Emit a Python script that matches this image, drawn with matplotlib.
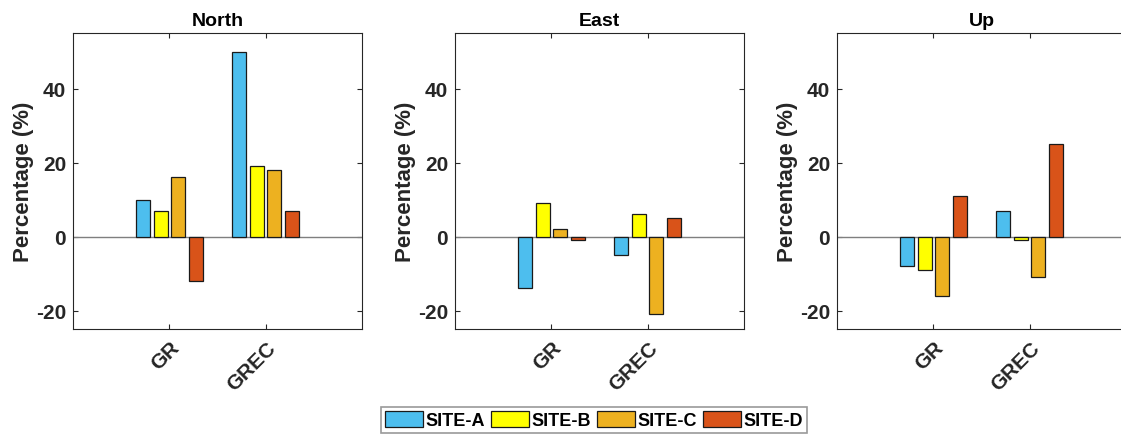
import matplotlib.pyplot as plt
import numpy as np

plt.rcParams['font.family'] = ['Liberation Sans', 'DejaVu Sans']
plt.rcParams['font.weight'] = 'bold'
plt.rcParams['axes.unicode_minus'] = False

# data
componentes = ["North", "East", "Up"]
grupos = ["GR", "GREC"]
sites = ["SITE-A", "SITE-B", "SITE-C", "SITE-D"]

north = [[10, 7, 16, -12], [50, 19, 18, 7]]
east = [[-14, 9, 2, -1], [-5, 6, -21, 5]]
up = [[-8, -9, -16, 11], [7, -1, -11, 25]]

cores = ['#4DBEEE', '#FFFF00', '#EDB120', '#D95319']

dados = [north, east, up]
x = np.arange(1, len(grupos) + 1)
passo = 0.182
largura = 0.145

fig = plt.figure(figsize=(11.21, 4.39), dpi=100)
lefts = [73, 455, 837]
handles = []
for k, (nome, d) in enumerate(zip(componentes, dados)):
    ax = fig.add_axes([lefts[k] / 1121, 1 - 330 / 439, 289 / 1121, 296 / 439])
    d = np.array(d)
    for j in range(len(sites)):
        off = (j - 1.5) * passo
        b = ax.bar(x + off, d[:, j], width=largura, color=cores[j],
                   edgecolor='#1a1a1a', linewidth=0.9, label=sites[j], zorder=3)
        if k == 0:
            handles.append(b)
    ax.axhline(0, color='#7f7f7f', linewidth=1.0, zorder=2)
    ax.set_xlim(0, 3)
    ax.set_ylim(-25, 55)
    ax.set_yticks([-20, 0, 20, 40])
    ax.set_xticks(x)
    ax.set_xticklabels(grupos, rotation=45, ha='right', rotation_mode='anchor',
                       fontsize=15, fontweight='bold', color='#262626')
    ax.tick_params(axis='y', labelsize=15, labelcolor='#262626', pad=5)
    ax.tick_params(axis='x', pad=6)
    ax.tick_params(direction='in', length=3.5, color='#262626', width=0.8,
                   top=True, right=True)
    for s in ax.spines.values():
        s.set_color('#262626')
        s.set_linewidth(0.8)
    ax.set_ylabel('Percentage (%)', fontsize=16, fontweight='bold', color='#262626', labelpad=1)
    ax.set_title(nome, fontsize=14, fontweight='bold', pad=6)

leg = fig.legend(handles=handles, labels=sites, loc='center', ncol=4,
                 bbox_to_anchor=(594 / 1121, 1 - 421 / 439), fontsize=13,
                 frameon=True, fancybox=False, edgecolor='#808080',
                 handlelength=2.1, handleheight=1.0, handletextpad=0.17,
                 columnspacing=0.3, borderpad=0.2, borderaxespad=0)
leg.get_frame().set_linewidth(1.2)

fig.savefig('out.png', dpi=100)
